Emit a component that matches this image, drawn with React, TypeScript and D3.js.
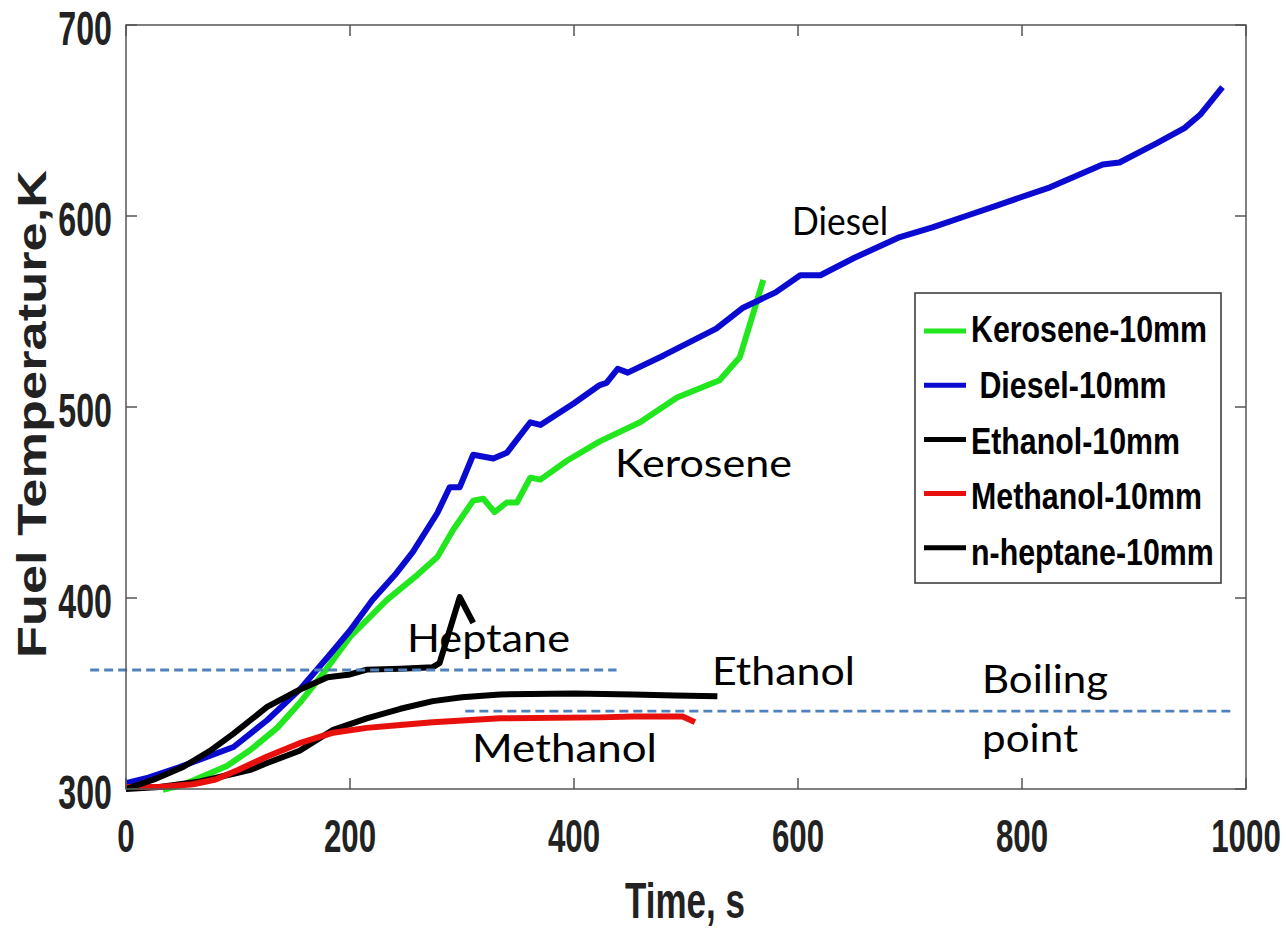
import * as d3 from "d3";

// time (s) and fuel temperature (K)
const dieselT = [0, 20, 48, 96, 126, 155, 180, 200, 220, 240, 256, 278, 289, 298, 310, 328, 340, 361, 370, 400, 423, 429, 439, 448, 480, 527, 551, 580, 602, 620, 650, 691, 720, 750, 780, 825, 872, 887, 920, 945, 959, 979];
const dieselK = [303, 306, 311.5, 322, 336, 352, 369, 383, 399, 412, 424, 444.5, 458, 458, 475, 473, 476, 492, 490.6, 502, 511.5, 512.6, 520, 518, 527, 541, 552, 560, 569, 569, 578, 589, 594, 600, 606, 615, 627, 628, 638, 646, 653, 667.5];

const keroT = [33, 50, 66, 90, 111, 135, 155, 178, 200, 233, 260, 278, 292, 310, 319, 329, 340, 349, 361, 370, 394, 423, 459, 492, 530, 548, 560, 569];
const keroK = [299.5, 302, 306, 312, 320.4, 332, 345, 362, 379.6, 399, 412, 421.5, 435.6, 451, 452, 445, 450, 450, 463, 462, 472, 482, 492, 505, 514, 526, 549, 566.5];

const heptT = [0, 25, 51, 75, 96, 126, 155, 180, 200, 215, 245, 274, 280, 298, 310];
const heptK = [300, 305, 311.5, 320, 329, 343, 352, 358.5, 360, 362.5, 363, 363.8, 366, 400.5, 387];

const methT = [0, 30, 60, 80, 100, 126, 155, 185, 215, 245, 274, 334, 423, 453, 497, 508];
const methK = [301, 301, 302.5, 305, 310, 317, 324, 329.5, 332, 333.5, 335, 337, 337.5, 338, 338, 335];

const ethT = [0, 30, 66, 96, 111, 126, 155, 185, 215, 245, 274, 300, 334, 400, 453, 490, 528];
const ethK = [300, 301, 304, 308, 310, 313.6, 320, 331, 337, 342, 346, 348, 349.5, 350, 349.5, 349, 348.5];

const xTicks = [0, 200, 400, 600, 800, 1000];
const yTicks = [300, 400, 500, 600, 700];

const legendLabels = ["Kerosene-10mm", " Diesel-10mm", "Ethanol-10mm", "Methanol-10mm", "n-heptane-10mm"];
const legendColors = ["#22e61e", "#0a0ad0", "#000000", "#e8100c", "#000000"];

// boiling point guide lines: [t0, t1, K]
const boilHept = [-32, 438, 362.3];
const boilAlc = [303, 986, 340.8];

const W = 1286;
const H = 928;
const x = d3.scaleLinear().domain([0, 1000]).range([126, 1246]);
const y = d3.scaleLinear().domain([300, 700]).range([789, 25]);

const toPts = (ts: number[], ks: number[]) => ts.map((t, i) => [t, ks[i]] as [number, number]);
const line = d3
  .line<[number, number]>()
  .x(d => x(d[0]))
  .y(d => y(d[1]));

const series = [
  { pts: toPts(keroT, keroK), color: legendColors[0] },
  { pts: toPts(dieselT, dieselK), color: legendColors[1] },
  { pts: toPts(ethT, ethK), color: legendColors[2] },
  { pts: toPts(methT, methK), color: legendColors[3] },
  { pts: toPts(heptT, heptK), color: legendColors[4] },
];

const boldFont = "'Liberation Sans', Arial, sans-serif";
const noteFont = "Lato, 'Open Sans', sans-serif";

// free text notes: [label, x px, baseline px, width px]
const notes: [string, number, number, number][] = [
  ["Diesel", 792, 235, 96],
  ["Kerosene", 615, 477, 177],
  ["Heptane", 407, 652, 163],
  ["Ethanol", 712, 685, 143],
  ["Methanol", 472, 762, 185],
  ["Boiling", 982, 693, 126],
  ["point", 982, 752, 96],
];

export default function App() {
  const [x0, x1] = x.range();
  const [y0, y1] = y.range();
  return (
    <svg
      width={W}
      height={H}
      style={{ position: "absolute", left: 0, top: 0, background: "#fff" }}
    >
      <rect x={0} y={0} width={W} height={H} fill="#fff" />

      {/* data lines */}
      {series.map((s, i) => (
        <path
          key={i}
          d={line(s.pts) ?? ""}
          fill="none"
          stroke={s.color}
          strokeWidth={6}
          strokeLinejoin="round"
          strokeLinecap="butt"
        />
      ))}

      {/* boiling point lines */}
      {[boilHept, boilAlc].map((b, i) => (
        <line
          key={i}
          x1={x(b[0])}
          x2={x(b[1])}
          y1={y(b[2])}
          y2={y(b[2])}
          stroke="#4f81bd"
          strokeWidth={2.8}
          strokeDasharray="9,5"
        />
      ))}

      {/* axes box */}
      <rect x={x0} y={y1} width={x1 - x0} height={y0 - y1} fill="none" stroke="#555" strokeWidth={1.5} />
      {xTicks.map(t => (
        <g key={"xt" + t}>
          <line x1={x(t)} x2={x(t)} y1={y0} y2={y0 - 11} stroke="#555" strokeWidth={1.5} />
          <line x1={x(t)} x2={x(t)} y1={y1} y2={y1 + 11} stroke="#555" strokeWidth={1.5} />
          <text
            transform={`translate(${x(t)},${852}) scale(0.68,1)`}
            textAnchor="middle"
            fontFamily={boldFont}
            fontWeight="bold"
            fontSize={46}
            fill="#222"
          >
            {t}
          </text>
        </g>
      ))}
      {yTicks.map(v => (
        <g key={"yt" + v}>
          <line x1={x0} x2={x0 + 11} y1={y(v)} y2={y(v)} stroke="#555" strokeWidth={1.5} />
          <line x1={x1} x2={x1 - 11} y1={y(v)} y2={y(v)} stroke="#555" strokeWidth={1.5} />
          <text
            transform={`translate(${112},${y(v) + 20}) scale(0.67,1)`}
            textAnchor="end"
            fontFamily={boldFont}
            fontWeight="bold"
            fontSize={48}
            fill="#222"
          >
            {v}
          </text>
        </g>
      ))}

      {/* axis titles */}
      <text
        transform={`translate(685,918) scale(0.7,1)`}
        textAnchor="middle"
        fontFamily={boldFont}
        fontWeight="bold"
        fontSize={50}
        fill="#222"
      >
        Time, s
      </text>
      <text
        transform={`translate(46,414) rotate(-90) scale(1.31,1)`}
        textAnchor="middle"
        fontFamily={boldFont}
        fontWeight="bold"
        fontSize={40}
        fill="#222"
      >
        Fuel Temperature,K
      </text>

      {/* legend */}
      <rect x={915} y={293} width={306} height={290} fill="#fff" stroke="#333" strokeWidth={1.5} />
      {legendLabels.map((lab, i) => (
        <g key={lab}>
          <line
            x1={924}
            x2={966}
            y1={331 + i * 54.2}
            y2={331 + i * 54.2}
            stroke={legendColors[i]}
            strokeWidth={5}
          />
          <text
            transform={`translate(971,${342 + i * 55.8}) scale(0.82,1)`}
            fontFamily={boldFont}
            fontWeight="bold"
            fontSize={37}
            fill="#000"
            style={{ whiteSpace: "pre" }}
          >
            {lab}
          </text>
        </g>
      ))}

      {/* annotations */}
      {notes.map(([lab, nx, ny, w]) => (
        <text
          key={lab}
          x={nx}
          y={ny}
          fontFamily={noteFont}
          fontSize={39}
          textLength={w}
          lengthAdjust="spacingAndGlyphs"
          fill="#000"
        >
          {lab}
        </text>
      ))}
    </svg>
  );
}
